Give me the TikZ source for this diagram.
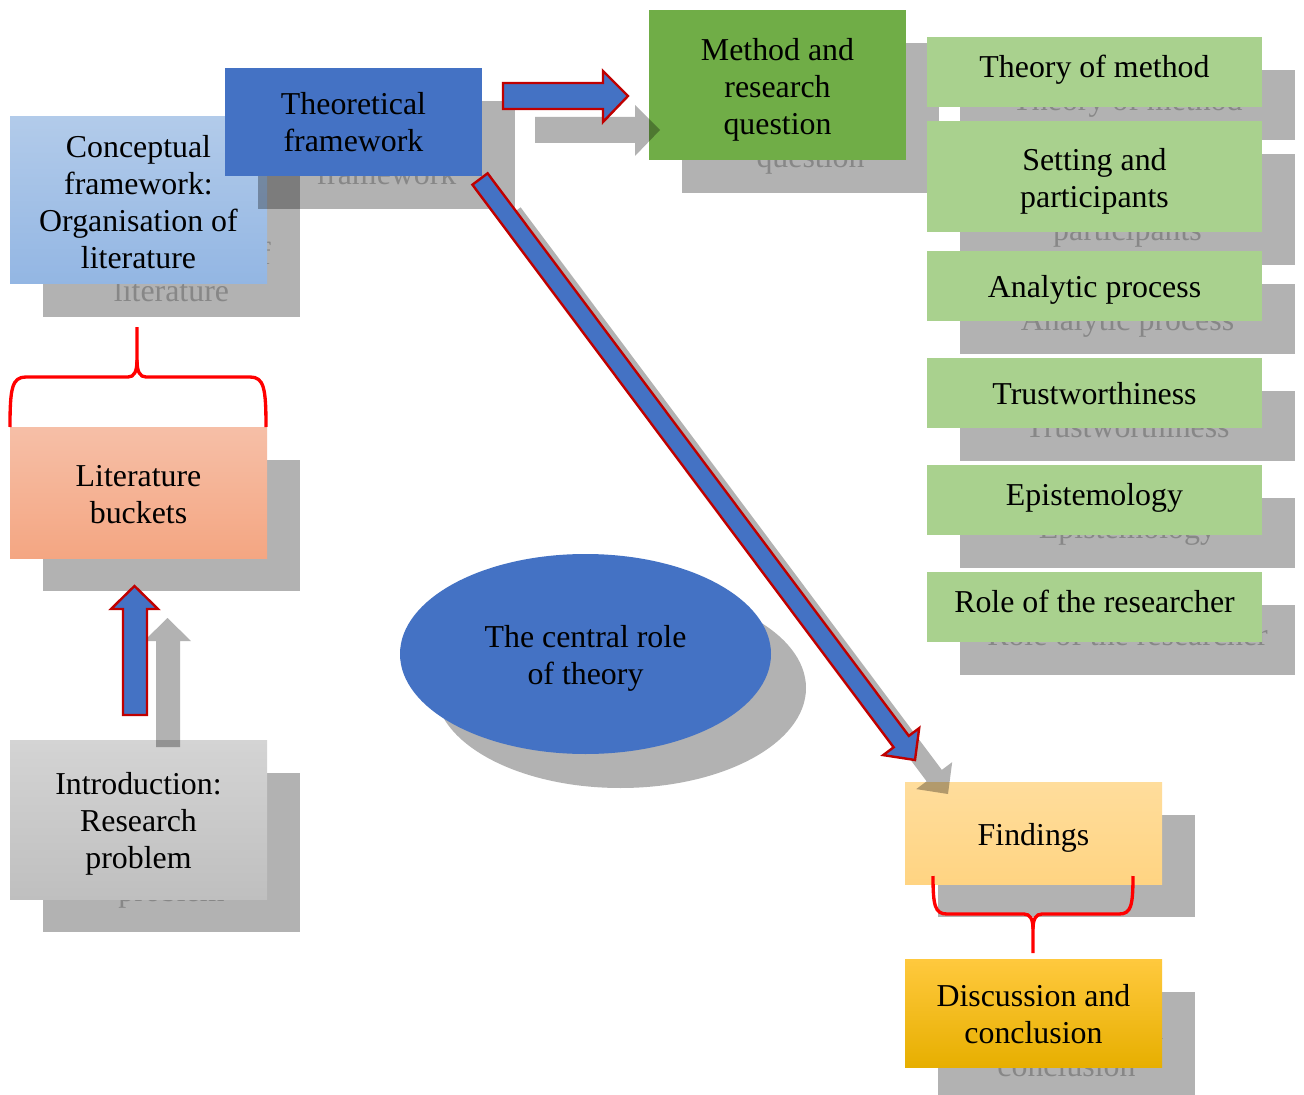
\documentclass[tikz,border=0pt]{standalone}
\usepackage{fontspec}
\setmainfont{Liberation Serif}
\usetikzlibrary{shapes.geometric}
\definecolor{tblue}{HTML}{4472C4}
\definecolor{tgreen}{HTML}{70AD47}
\definecolor{lgreen}{HTML}{A9D18E}
\definecolor{darkred}{HTML}{C00000}
\definecolor{conceptTop}{HTML}{B2CBEA}
\definecolor{conceptBot}{HTML}{93B6E3}
\definecolor{litTop}{HTML}{F6BFA7}
\definecolor{litBot}{HTML}{F4A682}
\definecolor{introTop}{HTML}{D4D4D4}
\definecolor{introBot}{HTML}{BFBFBF}
\definecolor{findTop}{HTML}{FFDD9C}
\definecolor{findBot}{HTML}{FFD482}
\definecolor{discTop}{HTML}{FFC93E}
\definecolor{discBot}{HTML}{E7AF00}
\definecolor{bracered}{HTML}{FF0000}
% #1 name, #2-#5 box corners (px), #6 fill style, #7 text, #8 text shift down (px)
\newcommand{\shbox}[8]{%
  \fill[shadowfill] ({#2+33},{#3+33}) rectangle ({#4+33},{#5+33});
  \node[shtext] (#1s) at ({(#2+#4)/2+33},{(#3+#5)/2+33+#8}) {#7};
  \node[boxbase,#6,minimum width={(#4-#2)*0.75pt},minimum height={(#5-#3)*0.75pt}] (#1) at ({(#2+#4)/2},{(#3+#5)/2}) {};
  \node[boxtext] (#1t) at ({(#2+#4)/2},{(#3+#5)/2+#8}) {#7};
}
\newcommand{\rarr}[1]{\path[#1] (503,83) -- (603,83) -- (603,71) -- (628,96) -- (603,122) -- (603,109) -- (503,109) -- cycle;}
\newcommand{\uarr}[1]{\path[#1] (123,715) -- (123,609) -- (111,609) -- (134.5,586) -- (158,609) -- (147,609) -- (147,715) -- cycle;}
\newcommand{\darr}[1]{\path[#1] (487.6,173.3) -- (908.8,735.9) -- (919.2,728.1) -- (915,760) -- (883.2,755.1) -- (893.6,747.3) -- (472.4,184.7) -- cycle;}
\begin{document}
\begin{tikzpicture}[x=0.75pt,y=-0.75pt,
  font=\fontsize{23.9}{27.75}\selectfont,
  shadowfill/.style={fill=black,fill opacity=0.3},
  shtext/.style={text=black!47,align=center,inner sep=0},
  boxbase/.style={inner sep=0,draw=none},
  boxtext/.style={inner sep=0,align=center,text=black},
  concept/.style={top color=conceptTop,bottom color=conceptBot},
  theo/.style={fill=tblue},
  meth/.style={fill=tgreen},
  sub/.style={fill=lgreen},
  lit/.style={top color=litTop,bottom color=litBot},
  intro/.style={top color=introTop,bottom color=introBot},
  find/.style={top color=findTop,bottom color=findBot},
  disc/.style={top color=discTop,bottom color=discBot},
  blockarrow/.style={fill=tblue,draw=darkred,line width=1.8pt,line join=miter},
  brace/.style={draw=bracered,line width=2.5pt}]
\useasboundingbox (0,0) rectangle (1304,1095);
\fill[white] (0,0) rectangle (1304,1095);

\shbox{concept}{10}{117}{267}{284}{concept}{Conceptual\\framework:\\Organisation of\\literature}{2}
\shbox{theo}{225}{68}{482}{176}{theo}{Theoretical\\framework}{0.5}
\shbox{meth}{649}{10}{906}{160}{meth}{Method and\\research\\question}{4.5}
\shbox{tom}{927}{37}{1262}{107}{sub}{Theory of method}{-2}
\shbox{set}{927}{121}{1262}{232}{sub}{Setting and\\participants}{4.5}
\shbox{ana}{927}{251}{1262}{321}{sub}{Analytic process}{4}
\shbox{trust}{927}{358}{1262}{428}{sub}{Trustworthiness}{1}
\shbox{epi}{927}{465}{1262}{535}{sub}{Epistemology}{-2}
\shbox{role}{927}{572}{1262}{642}{sub}{Role of the researcher}{-5.5}
\shbox{lit}{10}{427}{267}{558}{lit}{Literature\\buckets}{2}
\shbox{intro}{10}{740}{267}{899}{intro}{Introduction:\\Research\\problem}{4.5}
\shbox{find}{905}{782}{1162}{884}{find}{Findings}{5}
\shbox{disc}{905}{959}{1162}{1067}{disc}{Discussion and\\conclusion}{1}

% ellipse
\node[ellipse,shadowfill,minimum width={371*0.75pt},minimum height={200*0.75pt},inner sep=0] (ells) at (620.5,688) {};
\node[ellipse,fill=tblue,minimum width={371*0.75pt},minimum height={200*0.75pt},inner sep=0] (ell) at (585.5,654) {};
\node[boxtext] (ellt) at (585.5,658) {The central role\\of theory};

% arrow shadows
\begin{scope}[shift={(32,34)}]\rarr{shadowfill}\end{scope}
\begin{scope}[shift={(33,32)}]\uarr{shadowfill}\end{scope}
\begin{scope}[shift={(33,34)}]\darr{shadowfill}\end{scope}

% front arrows
\rarr{blockarrow}
\uarr{blockarrow}
\darr{blockarrow}

% braces
\draw[brace] (10,427) .. controls (10,388) and (12,377) .. (26,377) -- (128,377)
  .. controls (134,377) and (137,372) .. (137,360) -- (137,327);
\draw[brace] (137,360) .. controls (137,372) and (140,377) .. (146,377) -- (250,377)
  .. controls (264,377) and (266,388) .. (266,427);
\draw[brace] (933,876) .. controls (933,906) and (935,914) .. (947,914) -- (1024,914)
  .. controls (1030,914) and (1033,919) .. (1033,929) -- (1033,953);
\draw[brace] (1033,929) .. controls (1033,919) and (1036,914) .. (1042,914) -- (1119,914)
  .. controls (1131,914) and (1133,906) .. (1133,876);
\end{tikzpicture}
\end{document}
